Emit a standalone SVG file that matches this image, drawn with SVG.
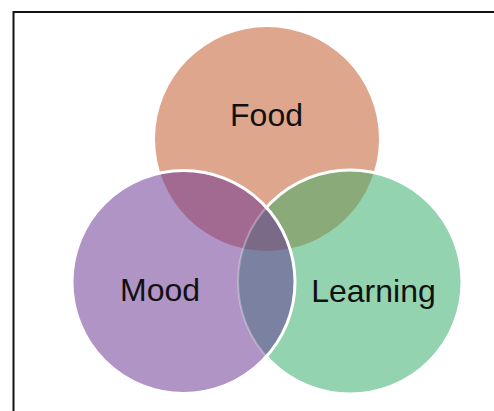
<svg xmlns="http://www.w3.org/2000/svg" width="494" height="411" viewBox="0 0 494 411">
<style>
.lbl{font-family:"Liberation Sans",Arial,sans-serif;font-size:32px;fill:#111;text-anchor:middle}
.ws{fill:none;stroke:#fff;stroke-width:3}
</style>
<defs>
<circle id="cF" cx="267" cy="139" r="112"/>
<circle id="cM" cx="183.5" cy="282" r="111.5"/>
<circle id="cL" cx="350" cy="282" r="112"/>
<clipPath id="clipM"><use href="#cM"/></clipPath>
<clipPath id="clipL"><use href="#cL"/></clipPath>
</defs>
<rect width="494" height="411" fill="#fff"/>
<path d="M13.5,411 V12 H494" fill="none" stroke="#111" stroke-width="2"/>
<g id="food">
<use href="#cF" fill="#DFA68E"/>
</g>
<g id="learning">
<use href="#cL" fill="#94D3B0"/>
<use href="#cF" fill="#8AAA7A" clip-path="url(#clipL)"/>
<use href="#cL" class="ws"/>
</g>
<g id="mood">
<use href="#cM" fill="#B094C6"/>
<use href="#cF" fill="#A26A90" clip-path="url(#clipM)"/>
<use href="#cL" fill="#7B81A0" clip-path="url(#clipM)"/>
<g clip-path="url(#clipM)"><use href="#cF" fill="#7A6A88" clip-path="url(#clipL)"/></g>
<use href="#cL" fill="none" stroke="#fff" stroke-opacity="0.3" stroke-width="2" clip-path="url(#clipM)"/>
<use href="#cM" class="ws"/>
</g>
<g id="labels">
<text class="lbl" x="266.5" y="126">Food</text>
<text class="lbl" x="160" y="301">Mood</text>
<text class="lbl" x="373.5" y="302">Learning</text>
</g>
</svg>
